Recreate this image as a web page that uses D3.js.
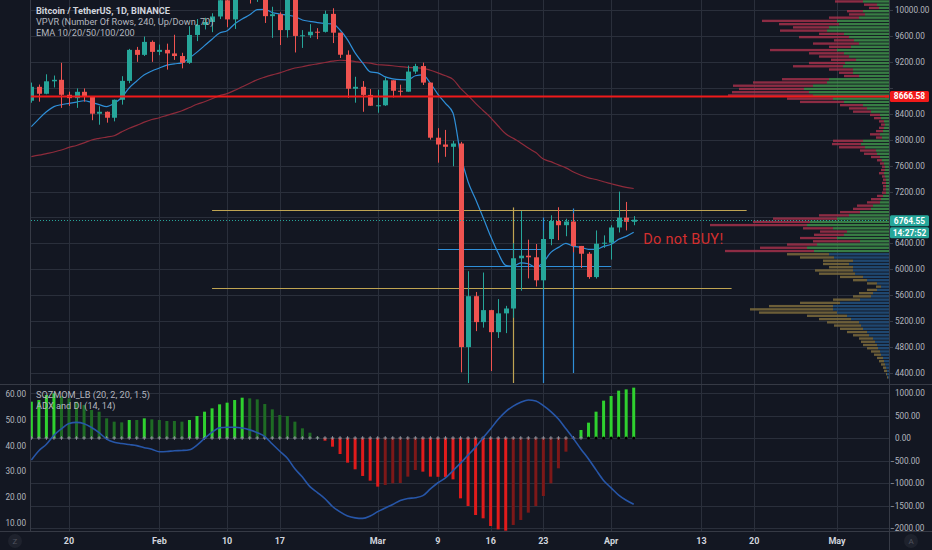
<!DOCTYPE html>
<html><head><meta charset="utf-8">
<script src="https://cdn.jsdelivr.net/npm/d3@7"></script>
<style>html,body{margin:0;padding:0;background:#131722;overflow:hidden}svg{display:block}</style>
</head><body><svg id="c" width="932" height="550"></svg>
<script>
// ---------------- DATA ----------------
const firstDay = "2020-01-15", lastDay = "2020-04-04";
// daily OHLC, BTC/USDT (Jan 15 .. Apr 4)
const open  = [8600,8815,8708,8900,8923,8692,8640,8738,8666,8400,8430,8338,8615,8907,9385,9308,9508,9354,9385,9330,
               9290,9185,9615,9770,9815,9900,10150,9855,10270,10350,10236,10365,9905,9935,9690,10185,9600,9610,9665,9663,
               9940,9650,9310,8785,8815,8690,8523,8530,8915,8754,8740,9050,9135,8880,8030,7925,7890,7940,4800,5585,
               5185,5370,5030,5320,5395,6170,6210,6185,5830,6467,6745,6680,6737,6360,6240,5880,6394,6410,6645,6797,6733];
const high  = [8880,8850,9008,8989,9185,8740,8790,8790,8666,8515,8435,8619,8979,9400,9431,9590,9530,9467,9481,9618,
               9340,9750,9860,9880,9950,10165,10184,10383,10495,10500,10393,10376,10050,9965,10250,10300,9690,9782,9720,9990,
               10027,9650,9377,8970,8903,8780,8770,8960,8915,8848,9142,9170,9188,8880,8177,8150,7980,7966,5970,5650,
               5950,5375,5540,5436,6400,6900,6457,6390,6600,6833,6957,6780,6863,6360,6266,6599,6523,6679,7198,7039,6820];
const low   = [8570,8586,8700,8805,8490,8520,8490,8586,8300,8230,8262,8282,8540,8871,9200,9290,9200,9303,9080,9230,
               9100,9168,9520,9700,9658,9860,9735,9708,10250,10100,10125,9800,9570,9460,9575,9345,9415,9570,9550,9652,
               9490,9260,8645,8570,8430,8520,8415,8520,8651,8660,8740,9015,8843,8000,7645,7735,7590,4410,3782,5046,
               5100,4430,4940,5015,5252,5670,5860,5734,5687,6371,6450,6510,6261,6020,5853,5857,6330,6150,6568,6600,6680];
const close = [8815,8708,8900,8923,8692,8640,8738,8666,8400,8430,8338,8615,8907,9385,9308,9508,9354,9385,9330,9290,
               9185,9615,9770,9815,9900,10150,9855,10270,10350,10236,10365,9905,9935,9690,10185,9600,9610,9665,9663,9940,
               9650,9310,8785,8815,8690,8523,8530,8915,8754,8740,9050,9135,8880,8030,7925,7890,7940,4800,5585,5185,
               5370,5030,5320,5395,6170,6210,6185,5830,6467,6745,6680,6737,6360,6240,5880,6394,6410,6645,6797,6733,6764.55];
// EMA lines
const emaFast = [8200,8320,8430,8510,8540,8560,8580,8600,8575,8540,8510,8560,8650,8800,8905,9000,9060,9105,9150,9170,
                 9185,9260,9350,9450,9550,9645,9680,9785,9860,9925,10005,10010,9960,9938,9920,9897,9846,9825,9805,9790,
                 9785,9692,9538,9338,9185,9046,9030,8969,8938,8925,8923,8985,9000,8870,8700,8560,8410,7780,7350,7080,
                 6800,6508,6250,6060,6046,6100,6085,6030,6108,6262,6338,6400,6354,6338,6308,6308,6354,6385,6462,6508,6570];
const emaSlow = [7738,7760,7785,7810,7840,7880,7910,7950,7995,8020,8040,8060,8120,8175,8220,8270,8310,8338,8375,8410,
                 8445,8495,8545,8585,8630,8680,8710,8760,8815,8870,8925,8965,9000,9030,9070,9105,9125,9150,9170,9190,
                 9210,9225,9220,9205,9190,9180,9155,9150,9140,9125,9115,9108,9100,9070,9030,8985,8930,8790,8680,8560,
                 8450,8340,8210,8090,8020,7950,7870,7800,7700,7660,7610,7565,7500,7450,7410,7385,7350,7320,7290,7265,7246];
// Squeeze momentum histogram
const momentum = [807,844,955,993,933,881,807,733,622,585,437,363,348,400,400,437,415,400,378,378,
                  363,400,489,585,659,748,785,844,896,881,859,755,637,511,489,363,215,118,30,-60,
                  -193,-356,-548,-696,-844,-948,-1081,-1044,-1007,-1000,-859,-711,-748,-859,-862,-865,-919,-1341,-1511,-1711,
                  -1785,-1956,-2030,-2060,-1933,-1822,-1659,-1511,-1289,-1007,-674,-304,-15,178,341,585,830,933,1052,1081,1119];
const squeezeOn = 74; // index from which squeeze dots are black
// ADX line
const adx = [34.4,38,40.5,44,46.5,48.6,49.0,48.5,47,45,42.5,41.3,40.8,40.4,40.0,39.2,38.6,37.6,37.7,38.0,
             38.1,38.4,40.2,42.8,45.2,46.9,47.1,47.1,46.8,46.1,45.0,43.5,40.6,37.8,35.1,31.0,27.8,24.1,21.8,19.4,
             16.4,14.3,12.7,12.0,11.8,12.7,14.4,15.8,17.2,18.7,19.5,19.8,20.6,23.2,25.6,27.5,30.3,33.2,36.3,39.4,
             43.0,46.5,50.2,53.2,55.3,56.8,57.7,57.3,55.5,53.2,50.3,46.5,42.7,38.6,34.8,30.6,26.5,23.6,20.8,18.8,17.3];
// Volume profile rows (top bin low price, step), up and down volume per row
const vpTop = 10100, vpStep = 50, vpSplit = 6250;
const vpUp   = [26,12,10,26,24,30,52,50,60,62,45,40,35,30,38,52,45,40,33,44,46,36,36,30,60,62,76,85,80,76,56,45,26,22,18,9,8,5,4,5,6,9,7,
                26,28,24,13,12,9,7,5,4,4,5,4,3,3,3,3,3,6,8,9,16,18,29,40,52,79,82,56,42,45,52,29,72,82,75,
                60,55,36,40,36,36,34,26,22,12,8,12,16,18,29,49,56,56,52,42,38,30,28,26,22,20,16,14,12,11,9,8,6,5,4,3,2,2,1];
const vpDown = [28,13,10,16,16,30,75,60,36,47,25,50,20,46,22,67,35,30,25,36,50,24,14,15,47,74,80,65,77,85,46,44,23,18,18,10,7,5,4,5,7,10,6,
                30,29,26,16,13,9,5,4,3,4,5,3,3,4,3,3,4,6,10,13,16,18,20,30,64,57,97,30,27,30,37,47,30,47,89,
                42,34,30,26,24,38,36,23,14,10,5,10,14,18,27,40,64,83,78,40,32,32,27,23,20,16,14,14,14,11,9,7,6,5,4,3,3,1,1];
// Axis ticks
const priceTicks = [10000,9600,9200,8800,8400,8000,7600,7200,6800,6400,6000,5600,5200,4800,4400];
const momTicks = [1000,500,0,-500,-1000,-1500,-2000];
const adxTicks = [60,50,40,30,20,10];
const timeTicks = ["2020-01-20","2020-02-01","2020-02-10","2020-02-17","2020-03-01","2020-03-09","2020-03-16","2020-03-23","2020-04-01","2020-04-13","2020-04-20","2020-05-01"];
const timeLabels = ["20","Feb","10","17","Mar","9","16","23","Apr","13","20","May"];
// Drawings and levels
const lastPrice = 6764.55, countdown = "14:27:52", alertLevel = 8666.58;
const hLines = [{p:6910,from:"2020-02-08",to:"2020-04-19",c:"gold"},{p:5710,from:"2020-02-08",to:"2020-04-17",c:"gold"},
                {p:6308,from:"2020-03-09",to:"2020-03-23",c:"blue"},{p:6046,from:"2020-03-12",to:"2020-04-01",c:"blue"}];
const vLines = [{d:"2020-03-19",p1:6954,p2:4000,c:"gold"},{d:"2020-03-23",p1:6800,p2:4000,c:"blue"},{d:"2020-03-27",p1:6938,p2:4400,c:"blue"}];
const note = {text:"Do not BUY!", d:"2020-04-05", p:6390};
const legendMain = ["Bitcoin / TetherUS, 1D, BINANCE","VPVR (Number Of Rows, 240, Up/Down, 70)","EMA 10/20/50/100/200"];
const legendSub = ["SQZMOM_LB (20, 2, 20, 1.5)","ADX and DI (14, 14)"];

// ---------------- LAYOUT ----------------
const W=932,H=550,L=31,R=889,mTop=0,mBot=383,sTop=385,sBot=531;
const BG="#131722", GRID="#2a2f3b", BORDER="#363a45", TXT="#b2b5be";
const UP="#26a69a", DN="#ef5350";
const FONT="Roboto, 'Noto Sans', sans-serif";
const parse=d3.utcParse("%Y-%m-%d");
const days=d3.utcDay.range(parse(firstDay), d3.utcDay.offset(parse(lastDay),1));
const x=d3.scaleUtc().domain([parse("2020-01-20"),parse("2020-05-01")]).range([69,837]);
const y=d3.scaleLinear().domain([4400,10000]).range([373,10]);
const yM=d3.scaleLinear().domain([-2000,1000]).range([528,393]);
const yA=d3.scaleLinear().domain([10,60]).range([523,394]);
const vx=d3.scaleLinear().domain([0,180]).range([0,180]);
const colors={gold:"#bfa452",blue:"#2f8fd8"};

const svg=d3.select("#c").style("font-family",FONT);
svg.append("rect").attr("width",W).attr("height",H).attr("fill",BG);
const defs=svg.append("defs");
defs.append("clipPath").attr("id","cm").append("rect").attr("x",L).attr("y",mTop).attr("width",R-L).attr("height",mBot-mTop);
defs.append("clipPath").attr("id","cs").append("rect").attr("x",L).attr("y",sTop).attr("width",R-L).attr("height",sBot-sTop);

// grid
const g=svg.append("g");
g.selectAll(".vg").data(timeTicks).join("line").attr("x1",d=>Math.round(x(parse(d)))+.5).attr("x2",d=>Math.round(x(parse(d)))+.5)
 .attr("y1",0).attr("y2",sBot).attr("stroke",GRID);
g.selectAll(".hg").data(priceTicks).join("line").attr("x1",L).attr("x2",R).attr("y1",d=>Math.round(y(d))+.5).attr("y2",d=>Math.round(y(d))+.5).attr("stroke",GRID);
g.selectAll(".hm").data(momTicks).join("line").attr("x1",L).attr("x2",R).attr("y1",d=>Math.round(yM(d))+.5).attr("y2",d=>Math.round(yM(d))+.5).attr("stroke",GRID);

// main pane
const m=svg.append("g").attr("clip-path","url(#cm)");
// volume profile
const vp=m.append("g");
vpUp.forEach((u,i)=>{
  const pl=vpTop-i*vpStep, y0=y(pl+vpStep), y1=y(pl), hh=(y1-y0)-0.9;
  const hi=pl>=vpSplit;
  vp.append("rect").attr("x",R-vx(u)).attr("y",y0).attr("width",vx(u)).attr("height",hh).attr("fill",hi?"#3f8f4a":"#22507e").attr("opacity",0.85);
  vp.append("rect").attr("x",R-vx(u+vpDown[i])).attr("y",y0).attr("width",vx(vpDown[i])).attr("height",hh).attr("fill",hi?"#a3304a":"#7c6b3c").attr("opacity",0.85);
});
// EMAs
const lineF=d3.line().x((d,i)=>x(days[i])).y(d=>y(d)).curve(d3.curveMonotoneX);
m.append("path").attr("d",lineF(emaSlow)).attr("fill","none").attr("stroke","#8e2b3b").attr("stroke-width",1.2);
m.append("path").attr("d",lineF(emaFast)).attr("fill","none").attr("stroke","#2f8fd8").attr("stroke-width",1.2);
// drawings
hLines.forEach(l=>m.append("line").attr("x1",x(parse(l.from))).attr("x2",x(parse(l.to))).attr("y1",Math.round(y(l.p))+.5).attr("y2",Math.round(y(l.p))+.5).attr("stroke",colors[l.c]).attr("stroke-width",1.2));
vLines.forEach(l=>m.append("line").attr("x1",Math.round(x(parse(l.d)))+.5).attr("x2",Math.round(x(parse(l.d)))+.5).attr("y1",y(l.p1)).attr("y2",y(l.p2)).attr("stroke",colors[l.c]).attr("stroke-width",1.2));
// candles
days.forEach((d,i)=>{
  const cx=Math.round(x(d))+.5, up=close[i]>=open[i], col=up?UP:DN;
  m.append("line").attr("x1",cx).attr("x2",cx).attr("y1",y(high[i])).attr("y2",y(low[i])).attr("stroke",col);
  const t=y(Math.max(open[i],close[i])), b=y(Math.min(open[i],close[i]));
  m.append("rect").attr("x",cx-2.5).attr("y",t).attr("width",5).attr("height",Math.max(1,b-t)).attr("fill",col);
});
// levels
m.append("line").attr("x1",L).attr("x2",R).attr("y1",y(alertLevel)).attr("y2",y(alertLevel)).attr("stroke","#f01a1a").attr("stroke-width",2);
m.append("line").attr("x1",L).attr("x2",R).attr("y1",Math.round(y(lastPrice))+.5).attr("y2",Math.round(y(lastPrice))+.5).attr("stroke",UP).attr("stroke-dasharray","1,2");
m.append("text").attr("x",x(parse(note.d))+2).attr("y",y(note.p)).text(note.text).attr("fill","#d32f2f").attr("font-size",14.5).attr("letter-spacing",0.3);
// legend
legendMain.forEach((t,i)=>svg.append("text").attr("x",36).attr("y",14+i*11).text(t).attr("font-size",9.2)
  .attr("fill",i==0?"#d1d4dc":TXT).attr("font-weight",i==0?"bold":"normal"));

// sub pane
const s=svg.append("g").attr("clip-path","url(#cs)");
days.forEach((d,i)=>{
  const v=momentum[i], pv=i>0?momentum[i-1]:v;
  const col = v>=0 ? (v>pv||i==0?"#2fd12f":"#1e6b24") : (v<pv?"#e01b1b":"#7d1818");
  const cx=x(d);
  s.append("rect").attr("x",cx-1.5).attr("width",3).attr("y",Math.min(yM(v),yM(0))).attr("height",Math.abs(yM(v)-yM(0))).attr("fill",col);
});
days.forEach((d,i)=>{
  const cx=x(d), cy=yM(0);
  if(i<squeezeOn){
    s.append("path").attr("d",`M${cx-1.8},${cy}H${cx+1.8}M${cx},${cy-1.8}V${cy+1.8}`).attr("stroke","#8f939c").attr("stroke-width",1);
  } else {
    s.append("circle").attr("cx",cx).attr("cy",cy).attr("r",1.5).attr("fill","#000");
  }
});
s.append("path").attr("d",d3.line().x((d,i)=>x(days[i])).y(d=>yA(d)).curve(d3.curveMonotoneX)(adx))
 .attr("fill","none").attr("stroke","#2756a8").attr("stroke-width",1.6);
legendSub.forEach((t,i)=>svg.append("text").attr("x",36).attr("y",398+i*11).text(t).attr("font-size",9.2).attr("fill",TXT));

// borders
svg.append("line").attr("x1",0).attr("x2",W).attr("y1",384.5).attr("y2",384.5).attr("stroke",BORDER);
svg.append("line").attr("x1",0).attr("x2",W).attr("y1",sBot+.5).attr("y2",sBot+.5).attr("stroke",BORDER);
svg.append("line").attr("x1",L-.5).attr("x2",L-.5).attr("y1",0).attr("y2",sBot).attr("stroke",BORDER);
svg.append("line").attr("x1",R+.5).attr("x2",R+.5).attr("y1",0).attr("y2",H).attr("stroke",BORDER);

// right price axis (labels hidden behind the price tags are skipped, as on the reference)
const tagYs=[y(alertLevel),y(lastPrice),y(lastPrice)+12];
const visibleTicks=priceTicks.filter(p=>tagYs.every(t=>Math.abs(y(p)-t)>9));
svg.selectAll(".pl").data(visibleTicks).join("text").attr("x",895).attr("y",d=>y(d)+3).text(d=>d3.format(".2f")(d)).attr("font-size",8.2).attr("fill",TXT);
svg.selectAll(".pt").data(priceTicks).join("line").attr("x1",R).attr("x2",R+4).attr("y1",d=>Math.round(y(d))+.5).attr("y2",d=>Math.round(y(d))+.5).attr("stroke",BORDER);
svg.selectAll(".ml").data(momTicks).join("text").attr("x",d=>d<0?890:895).attr("y",d=>yM(d)+3).text(d=>d3.format(".2f")(d).replace("-","\u2212")).attr("font-size",8.2).attr("fill",TXT);
svg.selectAll(".al").data(adxTicks).join("text").attr("x",26).attr("text-anchor","end").attr("y",d=>yA(d)+3).text(d=>d3.format(".2f")(d)).attr("font-size",8.2).attr("fill",TXT);
// tags
function tag(p,dy,bg,txt){
  const ty=y(p)+dy;
  svg.append("rect").attr("x",890).attr("y",ty-5.5).attr("width",39).attr("height",11).attr("rx",1.5).attr("fill",bg);
  svg.append("text").attr("x",909.5).attr("text-anchor","middle").attr("y",ty+3).text(txt).attr("font-size",8.4).attr("fill","#fff").attr("font-weight","bold");
}
svg.append("line").attr("x1",R-4).attr("x2",R).attr("y1",y(alertLevel)).attr("y2",y(alertLevel)).attr("stroke","#f01a1a").attr("stroke-width",2);
tag(alertLevel,0,"#f01a1a",d3.format(".2f")(alertLevel));
tag(lastPrice,1,UP,d3.format(".2f")(lastPrice));
tag(lastPrice,13,UP,countdown);

// time axis
svg.selectAll(".tl").data(timeTicks).join("text").attr("x",(d)=>x(parse(d))).attr("y",544).attr("text-anchor","middle")
 .text((d,i)=>timeLabels[i]).attr("font-size",9).attr("fill","#d1d4dc").attr("font-weight","bold");
[[15,"Z"],[911,"A"]].forEach(([cx,t])=>{
  svg.append("circle").attr("cx",cx).attr("cy",541).attr("r",7).attr("fill","#1e222d");
  svg.append("text").attr("x",cx).attr("y",544).attr("text-anchor","middle").text(t).attr("font-size",8).attr("fill","#50535e");
});
</script></body></html>
